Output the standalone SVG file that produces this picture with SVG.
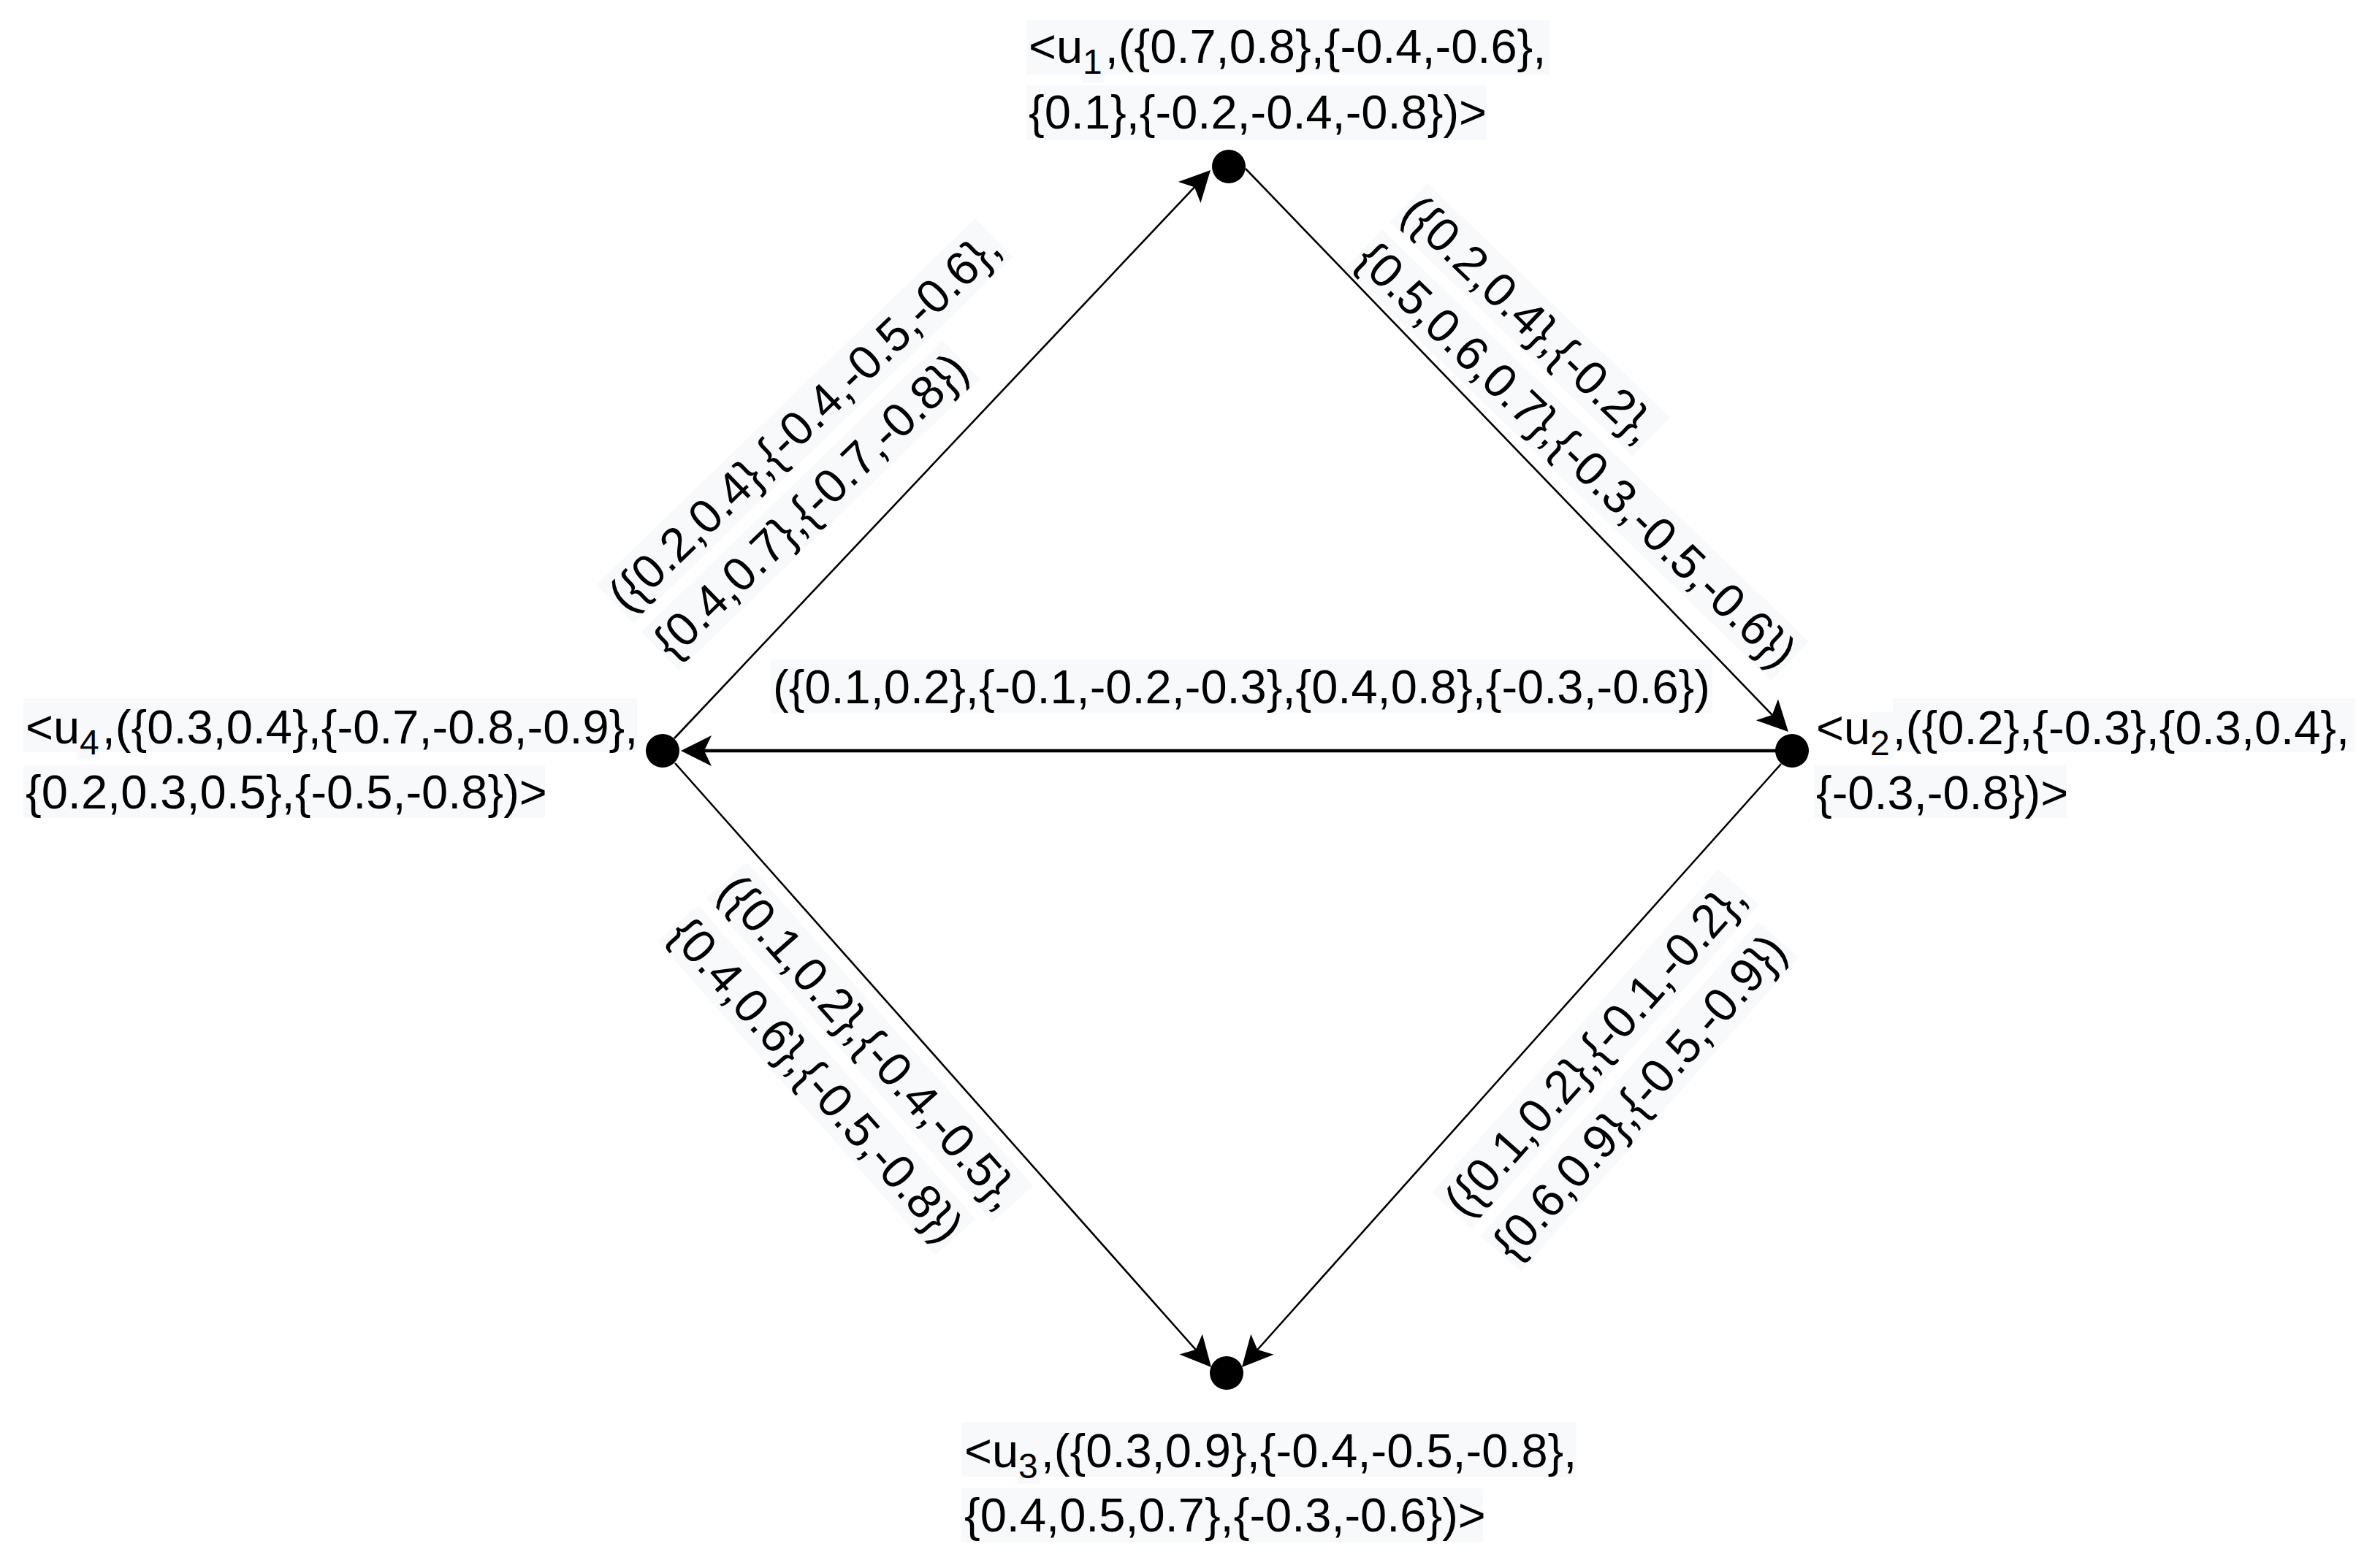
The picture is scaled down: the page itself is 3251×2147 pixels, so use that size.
<svg xmlns="http://www.w3.org/2000/svg" width="3251" height="2147" viewBox="0 0 3251 2147">
<defs>
<style>
text { font-family: "Liberation Sans", Arial, sans-serif; font-size: 65px; fill: #000; }
.sub { font-size: 48px; }
.bg { fill: #f8f9fa; }
.edge { stroke: #000; stroke-width: 2.6; fill: none; marker-end: url(#arr); }
.thick { stroke-width: 4.5; }
.node { fill: #000; }
</style>
<marker id="arr" markerUnits="userSpaceOnUse" viewBox="-44 -23 46 46" refX="-8" refY="0" markerWidth="46" markerHeight="46" orient="auto">
<path d="M0,0 L-42,-21 L-32,0 L-42,21 Z" fill="#000"/>
</marker>
</defs>
<rect width="3251" height="2147" fill="#fff"/>

<g id="connectors">
  <line class="edge" x1="923" y1="1011" x2="1651.5" y2="238.8"/>
  <line class="edge" x1="1705" y1="231" x2="2442.4" y2="996.2"/>
  <line class="edge thick" x1="2431" y1="1028" x2="940" y2="1028"/>
  <line class="edge" x1="924" y1="1045" x2="1652.7" y2="1866"/>
  <line class="edge" x1="2438" y1="1046" x2="1705.3" y2="1866"/>

  <g id="label-u4-u1" transform="translate(859,841) rotate(-44)">
    <rect class="bg" x="-3" y="-59" width="722" height="74"/>
    <rect class="bg" x="-3" y="30" width="574" height="74"/>
    <text x="0" y="0">({0.2,0.4},{-0.4,-0.5,-0.6},</text>
    <text x="0" y="89">{0.4,0.7},{-0.7,-0.8})</text>
  </g>
  <g id="label-u1-u2" transform="translate(1915,295) rotate(44)">
    <rect class="bg" x="-3" y="-59" width="462" height="74"/>
    <rect class="bg" x="-3" y="30" width="812" height="74"/>
    <text x="0" y="0">({0.2,0.4},{-0.2},</text>
    <text x="0" y="89">{0.5,0.6,0.7},{-0.3,-0.5,-0.6})</text>
  </g>
  <g id="label-u2-u4">
    <rect class="bg" x="1055" y="903" width="1289" height="74"/>
    <text x="1058" y="963">({0.1,0.2},{-0.1,-0.2,-0.3},{0.4,0.8},{-0.3,-0.6})</text>
  </g>
  <g id="label-u4-u3" transform="translate(980,1222) rotate(48.5)">
    <rect class="bg" x="-3" y="-59" width="592" height="74"/>
    <rect class="bg" x="-3" y="30" width="574" height="74"/>
    <text x="0" y="0">({0.1,0.2},{-0.4,-0.5},</text>
    <text x="0" y="89">{0.4,0.6},{-0.5,-0.8})</text>
  </g>
  <g id="label-u2-u3" transform="translate(2006,1670) rotate(-48.5)">
    <rect class="bg" x="-3" y="-59" width="592" height="74"/>
    <rect class="bg" x="-3" y="30" width="574" height="74"/>
    <text x="0" y="0">({0.1,0.2},{-0.1,-0.2},</text>
    <text x="0" y="89">{0.6,0.9},{-0.5,-0.9})</text>
  </g>
</g>

<g id="u1">
  <circle class="node" cx="1682" cy="228" r="23"/>
  <rect class="bg" x="1405" y="27" width="716" height="75"/>
  <rect class="bg" x="1481" y="40" width="31" height="73"/>
  <rect class="bg" x="1405" y="117" width="630" height="75"/>
  <text x="1408" y="86">&lt;u<tspan class="sub" dy="15">1</tspan><tspan dx="4" dy="-15">,({0.7,0.8},{-0.4,-0.6},</tspan></text>
  <text x="1408" y="176">{0.1},{-0.2,-0.4,-0.8})&gt;</text>
</g>

<g id="u2">
  <circle class="node" cx="2453" cy="1028" r="23"/>
  <rect class="bg" x="2591" y="956" width="633" height="74"/>
  <rect class="bg" x="2559" y="975" width="32" height="65"/>
  <rect class="bg" x="2483" y="1047" width="346" height="73"/>
  <text x="2486" y="1019">&lt;u<tspan class="sub" dy="15">2</tspan><tspan dx="4" dy="-15">,({0.2},{-0.3},{0.3,0.4},</tspan></text>
  <text x="2486" y="1108">{-0.3,-0.8})&gt;</text>
</g>

<g id="u3">
  <circle class="node" cx="1679" cy="1880" r="23"/>
  <rect class="bg" x="1316" y="1947" width="842" height="75"/>
  <rect class="bg" x="1392" y="1960" width="31" height="72"/>
  <rect class="bg" x="1316" y="2038" width="714" height="74"/>
  <text x="1320" y="2009">&lt;u<tspan class="sub" dy="15">3</tspan><tspan dx="4" dy="-15">,({0.3,0.9},{-0.4,-0.5,-0.8},</tspan></text>
  <text x="1320" y="2097">{0.4,0.5,0.7},{-0.3,-0.6})&gt;</text>
</g>

<g id="u4">
  <circle class="node" cx="907" cy="1028" r="23"/>
  <rect class="bg" x="32" y="956" width="840" height="74"/>
  <rect class="bg" x="105" y="970" width="32" height="70"/>
  <rect class="bg" x="32" y="1047" width="714" height="73"/>
  <text x="35" y="1018">&lt;u<tspan class="sub" dy="15">4</tspan><tspan dx="4" dy="-15">,({0.3,0.4},{-0.7,-0.8,-0.9},</tspan></text>
  <text x="35" y="1107">{0.2,0.3,0.5},{-0.5,-0.8})&gt;</text>
</g>
</svg>
